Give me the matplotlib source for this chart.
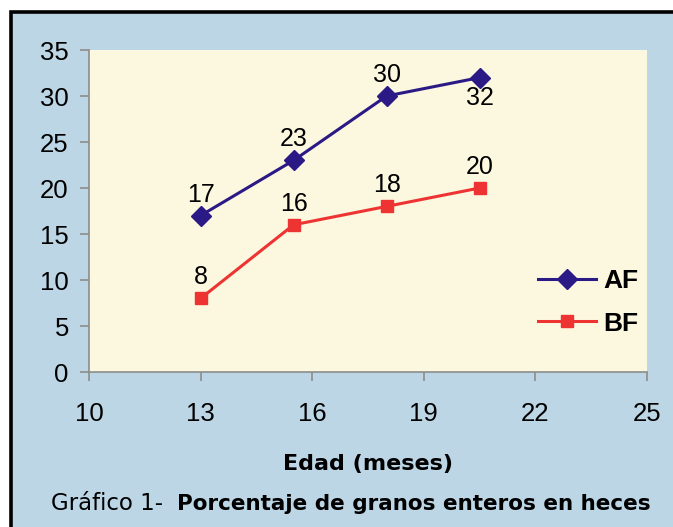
import matplotlib.pyplot as plt
from matplotlib.patches import Rectangle

plt.rcParams["font.family"] = ["Liberation Sans", "DejaVu Sans"]

# data
edad = [13, 15.5, 18, 20.5]
af = [17, 23, 30, 32]
bf = [8, 16, 18, 20]
x_ticks = [10, 13, 16, 19, 22, 25]
y_ticks = [0, 5, 10, 15, 20, 25, 30, 35]

BLUE_BG = "#BCD6E5"
YELLOW_BG = "#FCF8DF"
AF_COLOR = "#2B1A86"
BF_COLOR = "#EE3333"
AXIS_GRAY = "#8C8C8C"

W, H = 673, 527
fig = plt.figure(figsize=(W / 100, H / 100), dpi=100, facecolor="white")

# blue panel with black frame on left/top
fig.patches.append(Rectangle((11.5 / W, -0.1), 1.2, (H - 11.5) / H + 0.1,
                             transform=fig.transFigure, facecolor=BLUE_BG,
                             edgecolor="black", linewidth=2.6, zorder=-10))

ax = fig.add_axes([89 / W, (H - 372) / H, (647 - 89) / W, (372 - 50) / H])
ax.set_facecolor(YELLOW_BG)

ax.plot(edad, af, color=AF_COLOR, lw=2.2, marker="D", ms=10, label="AF")
ax.plot(edad, bf, color=BF_COLOR, lw=2.2, marker="s", ms=8.7, label="BF")

for x, y in zip(edad, af):
    off = -20 if y == af[-1] else 21
    ax.annotate(str(y), (x, y), xytext=(0, off), textcoords="offset pixels",
                ha="center", va="center", fontsize=18)
for x, y in zip(edad, bf):
    ax.annotate(str(y), (x, y), xytext=(0, 21), textcoords="offset pixels",
                ha="center", va="center", fontsize=18)

ax.set_xlim(10, 25)
ax.set_ylim(0, 35)
ax.set_xticks(x_ticks)
ax.set_yticks(y_ticks)
ax.tick_params(axis="both", colors=AXIS_GRAY, length=6.5, width=1.2,
               labelsize=18.5, labelcolor="black")
ax.tick_params(axis="x", pad=15)
ax.tick_params(axis="y", pad=8)
for side in ("top", "right"):
    ax.spines[side].set_visible(False)
for side in ("left", "bottom"):
    ax.spines[side].set_color(AXIS_GRAY)
    ax.spines[side].set_linewidth(1.2)

ax.legend(loc="center left", bbox_to_anchor=(0.805, 0.216), frameon=False,
          prop={"size": 19, "weight": "bold"}, handlelength=2.2,
          handletextpad=0.27, labelspacing=0.7, borderpad=0, borderaxespad=0)

fig.text(368 / W, 1 - 464 / H, "Edad (meses)", ha="center", va="center",
         fontsize=16, fontweight="bold", family="DejaVu Sans")
fig.text(51 / W, 1 - 504 / H, "Gráfico 1-", ha="left", va="center",
         fontsize=16.5, family="DejaVu Sans")
fig.text(177 / W, 1 - 504 / H, "Porcentaje de granos enteros en heces",
         ha="left", va="center", fontsize=15.5, fontweight="bold",
         family="DejaVu Sans")

fig.savefig("out.png", dpi=100, facecolor=fig.get_facecolor())
